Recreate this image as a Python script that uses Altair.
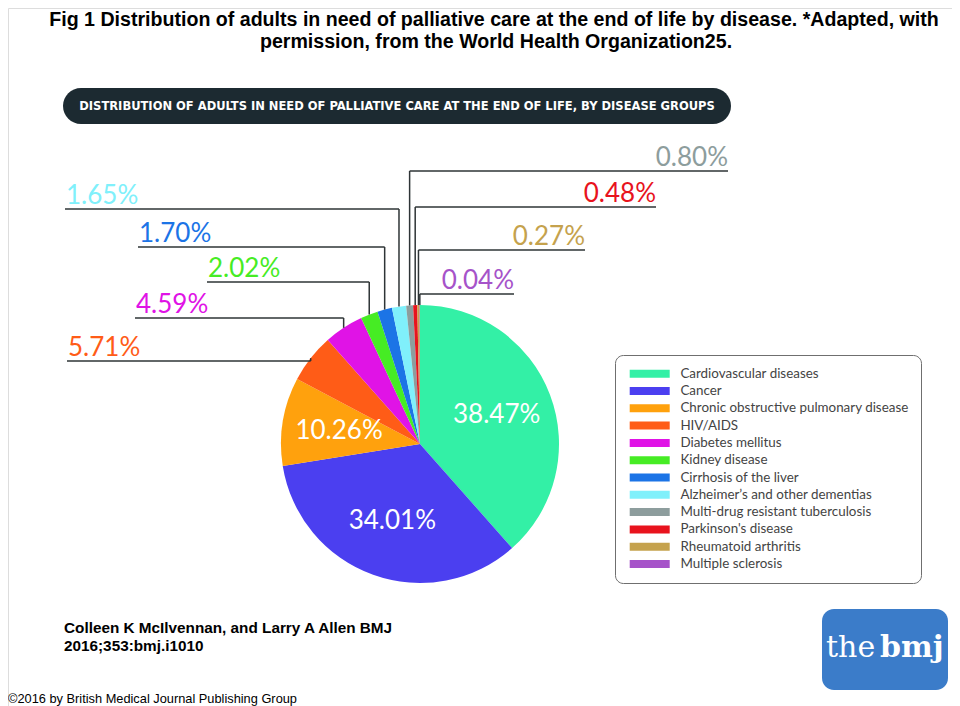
import altair as alt
import pandas as pd
import numpy as np

# ---------------- data ----------------
diseases = [
    "Cardiovascular diseases", "Cancer", "Chronic obstructive pulmonary disease",
    "HIV/AIDS", "Diabetes mellitus", "Kidney disease", "Cirrhosis of the liver",
    "Alzheimer\u2019s and other dementias", "Multi-drug resistant tuberculosis",
    "Parkinson's disease", "Rheumatoid arthritis", "Multiple sclerosis",
]
shares = [38.47, 34.01, 10.26, 5.71, 4.59, 2.02, 1.70, 1.65, 0.80, 0.48, 0.27, 0.04]
colors = ["#33f0a6", "#4b3ff0", "#ffa10d", "#ff5c17", "#e013e6", "#46ec24",
          "#1c74e6", "#80f0fb", "#8d9d9d", "#e8131d", "#c5a24d", "#a653c9"]

# ---------------- layout (pixels on the page) ----------------
OX, OY = 8, 8
W, H = 944, 700
CX, CY, R = 420, 444, 139
# leader-line layout for small slices: (horizontal line y, far end x, side)
leader_layout = {
    "HIV/AIDS": (361, 67, "left"),
    "Diabetes mellitus": (318, 135, "left"),
    "Kidney disease": (282, 207, "left"),
    "Cirrhosis of the liver": (247, 138, "left"),
    "Alzheimer\u2019s and other dementias": (209, 65, "left"),
    "Multi-drug resistant tuberculosis": (171, 728, "right"),
    "Parkinson's disease": (207, 656, "right"),
    "Rheumatoid arthritis": (250, 585, "right"),
    "Multiple sclerosis": (294, 514, "right"),
}

df = pd.DataFrame({"disease": diseases, "share": shares, "idx": range(len(diseases)), "col": colors})
df["label"] = [f"{v:.2f}%" for v in shares]
df["inner"] = np.where(df["share"] > 10, df["label"], "")

# slice mid angles -> edge points for leader lines
vals = np.array(shares)
mid = (np.cumsum(vals) - vals / 2) / vals.sum() * 2 * np.pi
df["ex"] = CX + R * np.sin(mid)
df["ey"] = CY - R * np.cos(mid)

ld = df[df["disease"].isin(leader_layout)].copy()
ld["ly"] = [leader_layout[d][0] for d in ld["disease"]]
ld["fx"] = [leader_layout[d][1] for d in ld["disease"]]
ld["side"] = [leader_layout[d][2] for d in ld["disease"]]
ld["ty"] = ld["ly"] - 5
ld["tx"] = np.where(ld["side"] == "left", ld["fx"] + 1, ld["fx"])

xs = alt.Scale(domain=[OX, OX + W], nice=False, zero=False)
ys = alt.Scale(domain=[OY, OY + H], nice=False, zero=False, reverse=True)

one = pd.DataFrame({"k": [0]})


def txt(s, x, y, **kw):
    return alt.Chart(one).mark_text(**kw).encode(
        x=alt.value(x - OX), y=alt.value(y - OY), text=alt.value(s))


def box(x1, y1, x2, y2, **kw):
    return alt.Chart(one).mark_rect(**kw).encode(
        x=alt.value(x1 - OX), x2=alt.value(x2 - OX), y=alt.value(y1 - OY), y2=alt.value(y2 - OY))


legend = alt.Legend(
    title=None, orient="none", legendX=615 - OX, legendY=355 - OY,
    fillColor="white", strokeColor="#6f6f6f", cornerRadius=8, padding=12,
    symbolType="M-1,-1H9V1H-1Z", symbolSize=64, symbolStrokeWidth=0, symbolOpacity=1,
    labelFont="Lato", labelFontSize=13.4, labelColor="#444444", labelOffset=40,
    rowPadding=2.3, labelLimit=400,
)

pie = alt.Chart(df).mark_arc(outerRadius=R).encode(
    theta=alt.Theta("share:Q", stack=True),
    color=alt.Color("disease:N", scale=alt.Scale(domain=diseases, range=colors), legend=legend, sort=diseases),
    order=alt.Order("idx:Q", sort="ascending"),
    x=alt.value(CX - OX), y=alt.value(CY - OY),
)

inner = alt.Chart(df).mark_text(radius=82, font="Lato", fontSize=26, color="white").encode(
    theta=alt.Theta("share:Q", stack=True),
    detail="disease:N",
    order=alt.Order("idx:Q", sort="ascending"),
    text="inner:N",
    x=alt.value(CX - OX), y=alt.value(CY - OY),
)

vrule = alt.Chart(ld).mark_rule(color="#2e3436", strokeWidth=1.5).encode(
    x=alt.X("ex:Q", scale=xs, axis=None),
    y=alt.Y("ey:Q", scale=ys, axis=None), y2="ly:Q")
hrule = alt.Chart(ld).mark_rule(color="#2e3436", strokeWidth=1.5).encode(
    x=alt.X("ex:Q", scale=xs, axis=None), x2="fx:Q",
    y=alt.Y("ly:Q", scale=ys, axis=None))

lab_left = alt.Chart(ld[ld["side"] == "left"]).mark_text(
    align="left", baseline="alphabetic", font="Lato", fontSize=26).encode(
    x=alt.X("tx:Q", scale=xs, axis=None), y=alt.Y("ty:Q", scale=ys, axis=None),
    text="label:N", fill=alt.Fill("col:N", scale=None))
lab_right = alt.Chart(ld[ld["side"] == "right"]).mark_text(
    align="right", baseline="alphabetic", font="Lato", fontSize=26).encode(
    x=alt.X("tx:Q", scale=xs, axis=None), y=alt.Y("ty:Q", scale=ys, axis=None),
    text="label:N", fill=alt.Fill("col:N", scale=None))

bold = dict(font="Liberation Sans", fontWeight="bold", color="black", baseline="alphabetic")
layers = [
    box(63, 88, 731, 124, cornerRadius=18, color="#1c2a31"),
    txt("DISTRIBUTION OF ADULTS IN NEED OF PALLIATIVE CARE AT THE END OF LIFE, BY DISEASE GROUPS",
        397, 106, font="DejaVu Sans Condensed", fontWeight="bold", fontSize=12.8, color="white",
        align="center", baseline="middle"),
    pie, inner, vrule, hrule, lab_left, lab_right,
    txt("Fig 1 Distribution of adults in need of palliative care at the end of life by disease. *Adapted, with",
        494, 26, fontSize=19.6, align="center", **bold),
    txt("permission, from the World Health Organization25.", 496, 48, fontSize=19.6, align="center", **bold),
    txt("Colleen K McIlvennan, and Larry A Allen BMJ", 64, 633, fontSize=15.3, align="left", **bold),
    txt("2016;353:bmj.i1010", 64, 651, fontSize=15.3, align="left", **bold),
    txt("\u00a92016 by British Medical Journal Publishing Group", 8, 703, font="Liberation Sans",
        fontSize=12.8, color="black", align="left", baseline="alphabetic"),
    box(822, 609, 948, 690, cornerRadius=12, color="#3b7cc9"),
    txt("the", 826, 657, font="DejaVu Serif", fontSize=30, color="white", align="left", baseline="alphabetic"),
    txt("bmj", 880, 657, font="DejaVu Serif", fontWeight="bold", fontSize=30, color="white",
        align="left", baseline="alphabetic"),
]

chart = alt.layer(*layers).properties(
    width=W, height=H, padding=0, autosize=alt.AutoSizeParams(type="none")
).configure_view(stroke=None).configure(background="white")

chart.save("out.html", embed_options={"renderer": "svg", "actions": False})
